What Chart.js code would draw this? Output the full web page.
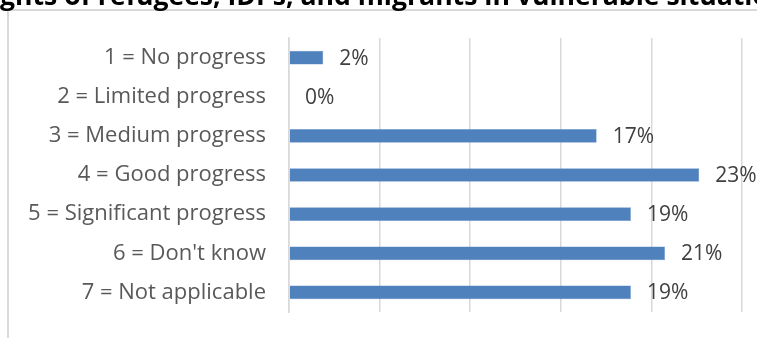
<!DOCTYPE html>
<html>
<head>
<meta charset="utf-8">
<script src="https://cdn.jsdelivr.net/npm/chart.js@4/dist/chart.umd.min.js"></script>
<style>
  html, body { margin: 0; padding: 0; background: #ffffff; overflow: hidden; }
  #wrap { position: relative; width: 757px; height: 338px; }
  #frame { position: absolute; left: 7px; top: 9px; width: 800px; height: 400px;
           border-left: 2px solid #d9d9d9; border-top: 2px solid #d9d9d9; box-sizing: border-box; }
  canvas { position: absolute; left: 0; top: 0; }
</style>
</head>
<body>
<div id="wrap">
  <div id="frame"></div>
  <canvas id="chart" width="757" height="338"></canvas>
</div>
<script>
// Survey responses on progress, shares of respondents (%)
const headline = "Rights of refugees, IDPs, and migrants in vulnerable situations";
const categories = [
  "1 = No progress",
  "2 = Limited progress",
  "3 = Medium progress",
  "4 = Good progress",
  "5 = Significant progress",
  "6 = Don't know",
  "7 = Not applicable"
];
const shares = [1.89, 0, 16.98, 22.64, 18.87, 20.75, 18.87];
const axisMax = 25;
const axisStep = 5;

const FONT = "'Open Sans', 'Liberation Sans', sans-serif";

// Headline text at the very top edge of the canvas
const headlinePlugin = {
  id: 'headline',
  afterDraw(chart) {
    const ctx = chart.ctx;
    ctx.save();
    ctx.font = "bold 26.6px " + FONT;
    ctx.fillStyle = '#000000';
    ctx.textAlign = 'left';
    ctx.textBaseline = 'alphabetic';
    const lead = ctx.measureText("Ri").width;
    ctx.fillText(headline, -lead, 5);
    ctx.restore();
  }
};

// Percentage labels placed just past the end of each bar
const valueLabelPlugin = {
  id: 'valueLabels',
  afterDatasetsDraw(chart) {
    const ctx = chart.ctx;
    const meta = chart.getDatasetMeta(0);
    const data = chart.data.datasets[0].data;
    ctx.save();
    ctx.font = "21px " + FONT;
    ctx.fillStyle = '#404040';
    ctx.textAlign = 'left';
    ctx.textBaseline = 'middle';
    meta.data.forEach((bar, i) => {
      ctx.fillText(Math.round(data[i]) + '%', bar.x + 16, bar.y + 1);
    });
    ctx.restore();
  }
};

new Chart(document.getElementById('chart'), {
  type: 'bar',
  data: {
    labels: categories,
    datasets: [{
      data: shares,
      backgroundColor: '#4f81bd',
      borderColor: '#6a95c9',
      borderWidth: 0.5,
      categoryPercentage: 1,
      barPercentage: 0.35
    }]
  },
  options: {
    indexAxis: 'y',
    responsive: false,
    animation: false,
    devicePixelRatio: 1,
    layout: { padding: { top: 38, bottom: 26, left: 0, right: 15 } },
    plugins: {
      legend: { display: false },
      tooltip: { enabled: false },
      title: { display: false }
    },
    scales: {
      x: {
        min: 0,
        max: axisMax,
        ticks: { display: false, stepSize: axisStep },
        grid: { color: '#d9d9d9', lineWidth: 1.5, drawTicks: false },
        border: { display: false }
      },
      y: {
        afterFit(scale) { scale.width = 289; },
        ticks: {
          color: '#595959',
          font: { family: FONT, size: 22 },
          padding: 0
        },
        // tick marks are hidden; their length only spaces the labels from the axis
        grid: { display: false, drawTicks: true, tickLength: 23 },
        border: { display: true, color: '#d9d9d9', width: 1.5 }
      }
    }
  },
  plugins: [headlinePlugin, valueLabelPlugin]
});
</script>
</body>
</html>
